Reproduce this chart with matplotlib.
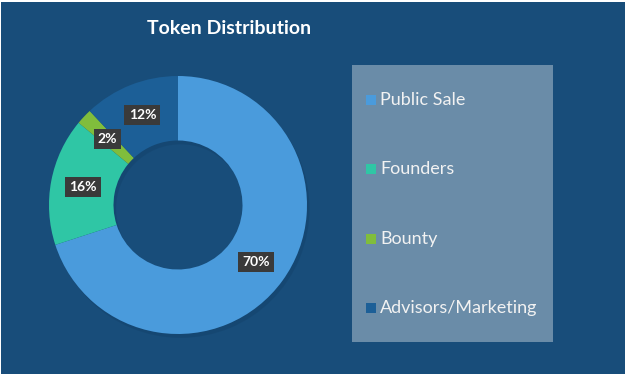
import matplotlib.pyplot as plt
from matplotlib.patches import Rectangle

# chart data
labels = ["Public Sale", "Founders", "Bounty", "Advisors/Marketing"]
shares = [70, 16, 2, 12]
colors = ["#4a9bdc", "#2fc6a5", "#80bd3c", "#1c5f97"]

BG = "#184d7a"
W, H = 627, 376

fig = plt.figure(figsize=(W / 100, H / 100), dpi=100)
fig.patch.set_facecolor("white")
# navy panel inside thin white frame
fig.add_artist(Rectangle((1 / W, 2 / H), (W - 3) / W, (H - 4) / H,
                         transform=fig.transFigure, fc=BG, ec="none", zorder=0))

fig.text(229 / W, 1 - 28 / H, "Token Distribution", color="white",
         fontsize=14, fontweight="bold", family="Lato", ha="center", va="center")

# donut
cx, cy, R = 178, 205, 129
ax = fig.add_axes([(cx - R) / W, (H - cy - R) / H, 2 * R / W, 2 * R / H])
ax.set_facecolor("none")
# faint drop shadow
ax.pie([1], colors=["#0d3356"], radius=1, center=(0.02, -0.03),
       wedgeprops=dict(width=0.5, edgecolor="none", alpha=0.2))
wedges, texts, autotexts = ax.pie(
    shares, colors=colors, startangle=90, counterclock=False,
    radius=1, wedgeprops=dict(width=0.5, edgecolor="none"),
    autopct="%d%%", pctdistance=0.75,
    textprops=dict(color="white", fontsize=10, fontweight="bold", family="Lato"))
for t in autotexts:
    t.set_bbox(dict(boxstyle="square,pad=0.3", fc="#3a3a3a", ec="none"))
ax.set_xlim(-1, 1)
ax.set_ylim(-1, 1)
ax.axis("off")

# legend panel
lx0, ly0, lx1, ly1 = 352, 65, 553, 342
fig.add_artist(Rectangle((lx0 / W, 1 - ly1 / H), (lx1 - lx0) / W, (ly1 - ly0) / H,
                         transform=fig.transFigure, fc="#6a8ca8", ec="none", zorder=1))
ys = [100, 169, 239, 308]
for lab, col, y in zip(labels, colors, ys):
    fig.add_artist(Rectangle((366 / W, 1 - (y + 5) / H), 10 / W, 10 / H,
                             transform=fig.transFigure, fc=col, ec="none", zorder=2))
    fig.text(380 / W, 1 - y / H, lab, color="#f2f2f2", fontsize=13,
             family="Lato", ha="left", va="center", zorder=3)

fig.savefig("out.png", dpi=100, facecolor=fig.get_facecolor())
